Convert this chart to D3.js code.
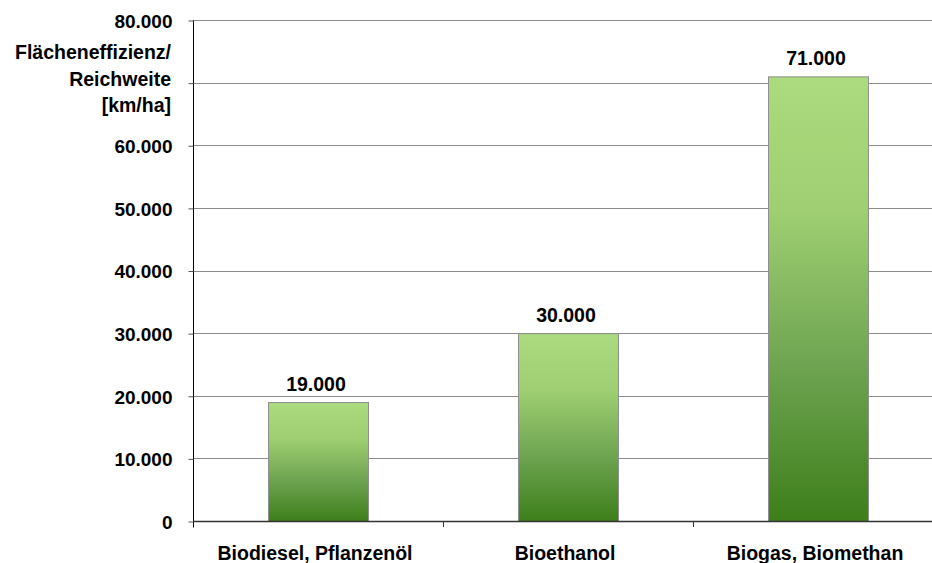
<!DOCTYPE html>
<html>
<head>
<meta charset="utf-8">
<script src="https://cdn.jsdelivr.net/npm/d3@7"></script>
<style>
  html, body { margin: 0; padding: 0; background: #fff; }
  svg { display: block; font-family: "Liberation Sans", Arial, sans-serif; font-weight: bold; }
</style>
</head>
<body>
<svg id="chart" width="932" height="563"></svg>
<script>
// Flächeneffizienz / Reichweite je Hektar nach Kraftstoffart
const categories = ["Biodiesel, Pflanzenöl", "Bioethanol", "Biogas, Biomethan"];
const values = [19000, 30000, 71000];
const yTicks = [0, 10000, 20000, 30000, 40000, 50000, 60000, 70000, 80000];
// the 70.000 label gives way to the axis title
const yTickLabels = ["0", "10.000", "20.000", "30.000", "40.000", "50.000", "60.000", "", "80.000"];
const yTitle = ["Flächeneffizienz/", "Reichweite", "[km/ha]"];

const svg = d3.select("#chart");
const plot = { left: 193, right: 943, top: 20, bottom: 521 };

const fmt = v => d3.format(",")(v).replace(/,/g, ".");

const x = d3.scaleBand().domain(categories).range([plot.left, plot.right])
  .paddingInner(0.6).paddingOuter(0.3);
const y = d3.scaleLinear().domain([0, 80000]).range([plot.bottom, plot.top]);

// bar gradient
const defs = svg.append("defs");
const grad = defs.append("linearGradient").attr("id", "barGrad")
  .attr("x1", 0).attr("y1", 0).attr("x2", 0).attr("y2", 1);
grad.append("stop").attr("offset", "0%").attr("stop-color", "#acda7e");
grad.append("stop").attr("offset", "30%").attr("stop-color", "#9fcf72");
grad.append("stop").attr("offset", "65%").attr("stop-color", "#6ea451");
grad.append("stop").attr("offset", "100%").attr("stop-color", "#3d7e1a");

// gridlines
svg.append("g").selectAll("line").data(yTicks.filter(d => d > 0)).join("line")
  .attr("x1", plot.left).attr("x2", 932)
  .attr("y1", d => Math.round(y(d)) + 0.5).attr("y2", d => Math.round(y(d)) + 0.5)
  .attr("stroke", "#8c8c8c").attr("stroke-width", 1);

// bars
svg.append("g").selectAll("rect").data(values).join("rect")
  .attr("x", (d, i) => x(categories[i]) + 0.5)
  .attr("width", x.bandwidth())
  .attr("y", d => y(d) + 0.5)
  .attr("height", d => plot.bottom - y(d))
  .attr("fill", "url(#barGrad)")
  .attr("stroke", "#8f8f8f").attr("stroke-width", 1);

// value labels
svg.append("g").selectAll("text").data(values).join("text")
  .attr("x", (d, i) => x(categories[i]) + x.bandwidth() / 2 - 2)
  .attr("y", d => y(d) - 11)
  .attr("text-anchor", "middle")
  .attr("font-size", 19.5)
  .attr("fill", "#000")
  .text(fmt);

// y axis
const yAxis = d3.axisLeft(y).tickValues(yTicks)
  .tickFormat((d, i) => yTickLabels[i]).tickSize(5).tickPadding(16);
const gy = svg.append("g").attr("transform", `translate(${plot.left + 0.5},0.5)`).call(yAxis);
gy.select(".domain").attr("d", `M0,${plot.top}V${plot.bottom + 6}`).attr("stroke", "#000");
gy.selectAll(".tick line").attr("stroke", "#555");
gy.selectAll(".tick text").attr("font-size", 19).attr("font-family", null)
  .attr("font-weight", "bold").attr("fill", "#000").attr("dy", "0.36em");

// x axis baseline and category separators
svg.append("line").attr("x1", plot.left).attr("x2", 932)
  .attr("y1", plot.bottom + 0.5).attr("y2", plot.bottom + 0.5)
  .attr("stroke", "#333").attr("stroke-width", 1.5);
const catWidth = (plot.right - plot.left) / categories.length;
svg.append("g").selectAll("line").data(d3.range(1, categories.length)).join("line")
  .attr("x1", i => Math.round(plot.left + i * catWidth) + 0.5)
  .attr("x2", i => Math.round(plot.left + i * catWidth) + 0.5)
  .attr("y1", plot.bottom).attr("y2", plot.bottom + 6)
  .attr("stroke", "#333");

// category labels
svg.append("g").selectAll("text").data(categories).join("text")
  .attr("x", d => x(d) + x.bandwidth() / 2 - 3)
  .attr("y", 560)
  .attr("text-anchor", "middle")
  .attr("font-size", 19.5)
  .attr("fill", "#000")
  .text(d => d);

// y axis title
svg.append("text").attr("text-anchor", "end").attr("font-size", 19.5).attr("fill", "#000")
  .selectAll("tspan").data(yTitle).join("tspan")
  .attr("x", 171).attr("y", (d, i) => 59 + i * 26.5)
  .text(d => d);
</script>
</body>
</html>
